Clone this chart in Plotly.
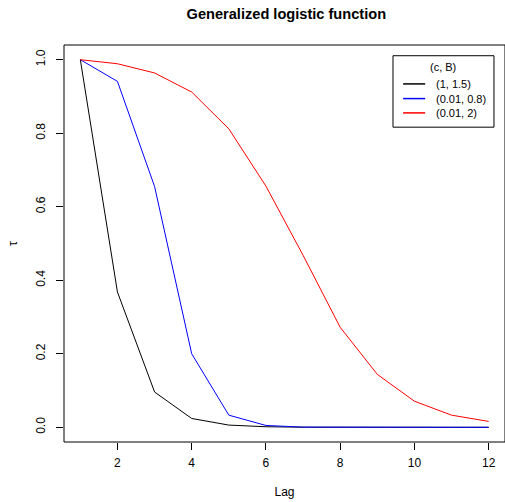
import plotly.graph_objects as go

lag = list(range(1, 13))
series_names = ["(1, 1.5)", "(0.01, 0.8)", "(0.01, 2)"]
legend_title = "(c, B)"
tau_black = [1.0, 0.368, 0.096, 0.024, 0.006, 0.0015, 0.0003, 0.0, 0.0, 0.0, 0.0, 0.0]
tau_blue = [1.0, 0.941, 0.655, 0.2, 0.033, 0.005, 0.0005, 0.0, 0.0, 0.0, 0.0, 0.0]
tau_red = [1.0, 0.989, 0.964, 0.912, 0.812, 0.656, 0.468, 0.272, 0.144, 0.071, 0.033, 0.016]
colors = ["black", "blue", "red"]
x_ticks = [2, 4, 6, 8, 10, 12]
y_ticks = [0.0, 0.2, 0.4, 0.6, 0.8, 1.0]

FONT = "Liberation Sans, Arial, Helvetica, sans-serif"

fig = go.Figure()
for name, vals, col in zip(series_names, [tau_black, tau_blue, tau_red], colors):
    fig.add_trace(go.Scatter(x=lag, y=vals, mode="lines", name=name,
                             line=dict(color=col, width=1), showlegend=False))

fig.update_layout(
    width=505, height=502,
    margin=dict(l=64, r=0, t=45, b=60),
    paper_bgcolor="white", plot_bgcolor="white",
    font=dict(family=FONT, size=12, color="black"),
    title=dict(text="<b>Generalized logistic function</b>", x=0.567, xanchor="center",
               y=0.972, yanchor="middle", font=dict(size=14.6, family=FONT)),
    showlegend=False,
)
fig.update_xaxes(
    range=[0.56, 12.44], tickvals=x_ticks, ticktext=[str(v) for v in x_ticks],
    ticks="outside", ticklen=7, tickcolor="black", tickwidth=1,
    showgrid=False, zeroline=False, showline=False, ticklabelstandoff=3,
    title=dict(text="Lag", standoff=18, font=dict(size=12)),
    tickfont=dict(size=12),
)
fig.update_yaxes(
    range=[-0.04, 1.04], tickvals=y_ticks, ticktext=[f"{v:.1f}" for v in y_ticks],
    ticks="outside", ticklen=7, tickcolor="black", tickwidth=1, tickangle=-90,
    showgrid=False, zeroline=False, showline=False, ticklabelstandoff=6,
    title=dict(text="τ", standoff=14, font=dict(size=12)),
    tickfont=dict(size=12),
)
# plot box
fig.add_shape(type="rect", xref="paper", yref="paper", x0=0, y0=0, x1=1, y1=1,
              line=dict(color="black", width=1), layer="above")

# legend (R-style)
fig.add_shape(type="rect", xref="paper", yref="paper", x0=0.746, x1=0.975,
              y0=0.793, y1=0.973, line=dict(color="black", width=1),
              fillcolor="white", layer="above")
fig.add_annotation(text=legend_title, xref="paper", yref="paper", x=0.859, y=0.944,
                   xanchor="center", yanchor="middle", showarrow=False,
                   font=dict(size=11, family=FONT))
entry_y = [0.902, 0.865, 0.829]
for name, col, yy in zip(series_names, colors, entry_y):
    fig.add_shape(type="line", xref="paper", yref="paper", x0=0.769, x1=0.819,
                  y0=yy, y1=yy, line=dict(color=col, width=1.5), layer="above")
    fig.add_annotation(text=name, xref="paper", yref="paper", x=0.839, y=yy,
                       xanchor="left", yanchor="middle", showarrow=False,
                       font=dict(size=11, family=FONT))

fig.write_html("out.html")
